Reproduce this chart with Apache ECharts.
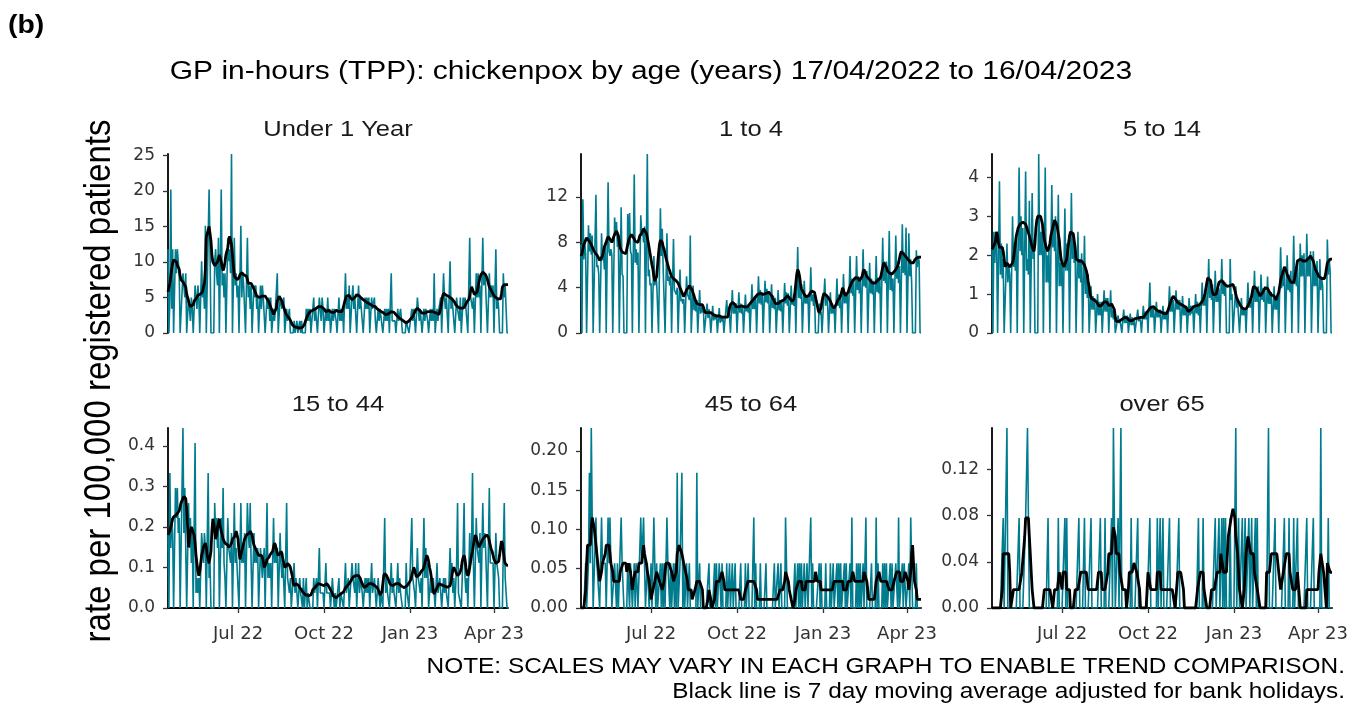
<!DOCTYPE html>
<html><head><meta charset="utf-8">
<script src="https://cdn.jsdelivr.net/npm/echarts@6/dist/echarts.min.js"></script>
<style>html,body{margin:0;padding:0;background:#fff}#c{width:1365px;height:709px}</style>
</head><body><div id="c"></div>
<script>
// ---------- data ----------
const startDate = [2022, 3, 17]; // 17/04/2022, 365 daily points
const tickDates = ['2022-07-01', '2022-10-01', '2023-01-01', '2023-04-01'];
const tickLabels = ['Jul 22', 'Oct 22', 'Jan 23', 'Apr 23'];
const panelTitles = ['Under 1 Year', '1 to 4', '5 to 14', '15 to 44', '45 to 64', 'over 65'];
const yTickValues = [[0,5,10,15,20,25],[0,4,8,12],[0,1,2,3,4],[0,0.1,0.2,0.3,0.4],[0,0.05,0.1,0.15,0.2],[0,0.04,0.08,0.12]];
const yTickLabels = [['0','5','10','15','20','25'],['0','4','8','12'],['0','1','2','3','4'],['0.0','0.1','0.2','0.3','0.4'],['0.00','0.05','0.10','0.15','0.20'],['0.00','0.04','0.08','0.12']];

// daily rate, Under 1 Year
const dailyUnder1 = [11.8,
0,5.0,20.2,3.4,11.8,0,0, 11.8,8.4,11.8,10.1,8.4,0,0, 0,8.4,6.7,5.0,8.4,0,0, 5.0,3.4,1.7,5.0,3.4,0,0,
6.7,5.0,3.4,6.7,5.0,0,0, 10.1,5.0,6.7,3.4,15.1,0,0, 13.4,20.2,11.8,0,0,0,0, 10.1,11.8,8.4,6.7,13.4,0,0,
20.2,6.7,8.4,5.0,8.4,0,0, 13.4,10.1,11.8,8.4,25.2,0,0, 13.4,6.7,8.4,5.0,6.7,0,0, 15.1,5.0,8.4,6.7,6.7,0,0,
13.4,5.0,6.7,3.4,6.7,0,0, 6.7,5.0,6.7,3.4,5.0,0,0, 6.7,3.4,6.7,5.0,5.0,0,0, 5.0,3.4,5.0,1.7,5.0,0,0,
3.4,1.7,3.4,3.4,8.4,0,0, 5.0,5.0,3.4,3.4,5.0,0,0, 3.4,1.7,1.7,3.4,0,0,0, 0,1.7,0,0,1.7,0,0,
1.7,0,1.7,0,0,0,0, 3.4,1.7,3.4,1.7,3.4,0,0, 0,5.0,1.7,3.4,3.4,0,0, 5.0,3.4,1.7,5.0,3.4,0,0,
3.4,1.7,5.0,1.7,3.4,0,0, 3.4,1.7,3.4,3.4,1.7,0,0, 5.0,1.7,3.4,1.7,3.4,0,0, 8.4,3.4,5.0,3.4,6.7,0,0,
5.0,6.7,3.4,5.0,5.0,0,0, 6.7,3.4,5.0,5.0,5.0,0,0, 5.0,3.4,5.0,3.4,5.0,0,0, 5.0,3.4,3.4,5.0,1.7,0,0,
3.4,1.7,3.4,3.4,3.4,0,0, 3.4,1.7,3.4,1.7,3.4,0,0, 8.4,1.7,1.7,1.7,1.7,0,0, 3.4,1.7,1.7,3.4,1.7,0,0,
0,0,1.7,1.7,1.7,0,0, 0,3.4,1.7,3.4,1.7,0,0, 5.0,3.4,1.7,3.4,3.4,0,0, 3.4,1.7,3.4,3.4,1.7,0,0,
3.4,1.7,3.4,1.7,8.4,0,0, 3.4,1.7,3.4,3.4,5.0,0,0, 8.4,5.0,3.4,5.0,5.0,0,0, 10.1,3.4,5.0,3.4,3.4,0,0,
5.0,3.4,3.4,1.7,5.0,0,0, 5.0,3.4,5.0,3.4,3.4,0,0, 13.4,5.0,5.0,3.4,5.0,0,0, 8.4,5.0,8.4,5.0,6.7,0,0,
13.4,6.7,8.4,6.7,6.7,0,0, 8.4,5.0,6.7,5.0,6.7,0,0, 11.8,3.4,5.0,3.4,0,0,0, 0,8.4,5.0,6.7,6.7,0,0];
const avgUnder1 = [5.8,
6.0,7.0,8.0,9.0,9.8,10.3,10.3, 10.3,10.0,9.5,9.5,9.0,8.0,7.5, 7.3,7.2,7.0,7.0,6.5,5.5,5.0, 4.5,4.0,3.7,3.5,3.6,4.0,4.5,
4.6,4.8,5.0,5.3,5.3,5.4,5.5, 5.5,5.8,6.5,7.0,9.0,13.5,14.0, 14.5,15.0,15.0,13.0,11.0,10.0,9.8, 9.5,9.5,9.5,10.0,10.5,11.0,10.5,
10.0,9.3,8.8,9.2,10.0,11.0,11.5, 12.0,13.0,13.6,13.5,12.5,11.0,9.5, 8.0,7.8,7.8,7.5,7.5,7.8,8.2, 8.4,8.5,8.5,8.2,8.0,8.2,8.0,
7.5,7.0,7.2,7.0,7.0,6.8,6.5, 6.2,6.0,5.6,5.2,5.0,5.0,5.0, 5.0,5.0,5.2,5.3,5.3,5.2,5.0, 4.8,4.8,4.4,4.0,3.6,3.5,3.0,
2.6,2.5,2.8,3.5,4.5,4.8,5.2, 5.3,5.2,4.5,4.0,3.6,3.2,2.8, 2.5,2.3,2.2,2.0,1.8,1.5,1.2, 1.0,0.9,0.8,0.8,0.8,0.7,0.7,
0.7,0.7,0.7,0.8,0.8,1.2,1.6, 2.0,2.3,2.6,2.8,3.0,3.0,3.1, 3.2,3.2,3.3,3.4,3.5,3.6,3.7, 3.8,3.8,3.7,3.6,3.5,3.4,3.2,
3.0,3.0,3.1,3.2,3.2,3.0,2.9, 2.8,2.8,2.9,3.0,3.2,3.1,3.0, 3.0,3.0,2.9,3.0,3.3,3.8,4.3, 4.8,5.2,5.4,5.4,5.3,5.0,4.8,
4.7,4.7,4.8,5.0,5.2,5.4,5.4, 5.4,5.2,5.0,4.9,4.8,4.8,4.6, 4.5,4.4,4.3,4.2,4.2,4.1,4.0, 3.9,3.8,3.8,3.7,3.7,3.6,3.4,
3.3,3.2,3.1,3.0,3.0,2.9,2.8, 2.7,2.6,2.6,2.6,2.7,2.8,2.9, 3.0,3.0,3.0,2.9,2.8,2.6,2.4, 2.3,2.2,2.1,2.0,1.9,1.9,1.7,
1.6,1.5,1.4,1.4,1.5,1.7,1.9, 2.0,2.1,2.3,2.6,2.9,3.2,3.4, 3.5,3.4,3.3,3.1,2.9,2.8,2.8, 2.8,2.8,2.9,3.0,3.0,3.0,3.0,
3.0,3.0,3.0,3.0,3.0,2.9,2.8, 2.7,2.6,2.6,3.0,3.6,4.4,5.2, 5.6,5.6,5.5,5.3,5.2,5.1,5.1, 5.0,4.9,4.8,4.7,4.6,4.3,4.0,
3.8,3.7,3.7,3.6,3.5,3.5,3.5, 3.5,3.6,3.8,4.1,4.4,4.6,4.7, 5.2,6.0,6.5,6.3,5.8,5.4,5.6, 5.4,5.8,6.5,7.2,7.8,8.2,8.4,
8.6,8.6,8.4,8.2,7.9,7.5,7.0, 6.5,6.3,6.0,5.8,5.5,5.3,5.1, 5.0,4.9,4.8,4.7,4.7,4.8,5.5, 6.5,6.7,6.8,6.8,6.8,6.8,6.8];

// 1 to 4
const daily1to4 = [7.8,
0,11.8,6.5,8.0,7.0,0,0, 9.5,7.2,8.8,6.9,8.6,0,0, 0,12.2,5.8,6.0,5.2,0,0, 8.8,6.4,7.1,5.6,8.0,0,0,
13.3,7.2,6.8,7.4,6.9,0,0, 10.2,8.6,9.8,7.6,8.4,0,0, 11.1,5.2,5.0,0,0,0,0, 10.5,7.8,10.6,7.2,6.9,0,0,
14.0,6.2,7.4,6.0,7.1,0,0, 10.4,8.6,9.2,8.0,9.4,0,0, 15.8,5.0,5.6,4.2,4.4,0,0, 6.8,4.2,5.0,4.5,4.6,0,0,
11.0,6.8,9.2,5.6,5.6,0,0, 8.8,4.6,5.0,4.2,5.0,0,0, 8.3,3.8,3.6,3.4,4.0,0,0, 5.6,2.8,3.0,2.6,3.0,0,0,
5.0,3.4,3.2,2.9,8.6,0,0, 4.2,2.0,3.0,1.9,2.9,0,0, 3.8,1.7,2.5,1.8,2.2,0,0, 0,2.6,1.3,2.1,1.4,0,0,
2.4,1.1,1.7,1.2,1.6,0,0, 2.2,0.9,1.5,1.0,1.4,0,0, 0,2.9,1.5,2.3,1.5,0,0, 3.8,1.7,2.7,1.7,2.6,0,0,
3.6,1.8,2.6,1.7,2.3,0,0, 3.4,1.9,2.4,1.8,2.5,0,0, 4.3,2.1,3.0,2.1,3.1,0,0, 5.0,2.6,3.8,2.5,3.6,0,0,
4.6,2.7,3.9,2.6,3.7,0,0, 4.3,2.2,3.3,2.1,3.1,0,0, 3.8,2.0,2.9,1.9,2.9,0,0, 4.4,2.6,3.6,2.4,3.5,0,0,
4.2,2.5,3.0,2.4,3.9,0,0, 7.6,3.1,4.5,3.0,4.3,0,0, 4.6,2.6,3.3,2.6,3.4,0,0, 5.8,2.8,3.4,2.4,3.6,0,0,
0,0,2.6,1.6,1.9,0,0, 0,4.8,2.4,3.3,2.7,0,0, 3.6,1.7,2.6,1.7,2.4,0,0, 4.8,2.4,3.4,2.2,3.2,0,0,
5.2,2.6,3.6,2.6,3.5,0,0, 6.8,3.5,4.8,3.3,4.6,0,0, 6.8,3.8,5.0,3.5,4.9,0,0, 7.4,4.1,5.5,4.0,5.5,0,0,
6.2,3.5,4.8,3.4,4.6,0,0, 6.8,3.6,4.9,3.5,4.7,0,0, 8.4,4.6,6.3,4.4,6.3,0,0, 9.0,3.8,5.2,3.7,4.8,0,0,
8.6,4.8,6.3,4.4,5.9,0,0, 9.6,5.3,7.1,5.1,9.3,0,0, 8.8,5.0,6.5,4.4,0,0,0, 0,7.3,5.8,6.8,6.3,0,0];
const avg1to4 = [6.8,
7.0,7.4,7.8,8.0,8.2,8.4,8.4, 8.3,8.1,8.0,7.8,7.6,7.4,7.3, 7.1,7.0,6.9,6.8,6.6,6.4,6.3, 6.4,6.8,7.2,7.6,7.8,8.0,8.3,
8.5,8.5,8.3,8.2,8.0,8.2,8.5, 8.7,8.8,9.0,9.0,8.6,8.0,7.5, 7.3,7.2,7.1,7.0,7.0,7.0,7.4, 7.8,8.2,8.4,8.5,8.7,8.8,8.6,
8.3,8.1,8.0,8.0,8.0,8.3,8.6, 8.6,8.8,9.0,9.2,9.3,9.3,8.8, 8.4,8.0,7.5,7.0,6.5,6.0,5.6, 5.0,4.6,4.6,5.0,6.0,7.0,7.8,
8.2,8.2,8.0,7.6,7.4,7.0,6.6, 6.3,6.0,5.7,5.5,5.2,5.0,4.9, 4.8,4.7,4.7,4.6,4.6,4.4,4.2, 4.0,3.8,3.6,3.4,3.2,3.3,3.6,
3.8,3.9,4.0,4.2,4.3,4.2,3.8, 3.5,3.3,3.0,2.8,2.6,2.6,2.6, 2.5,2.5,2.5,2.5,2.3,2.0,1.8, 1.8,1.8,1.8,1.8,1.8,1.8,1.7,
1.7,1.6,1.6,1.5,1.5,1.5,1.5, 1.5,1.5,1.4,1.4,1.4,1.4,1.4, 1.3,1.3,1.4,1.7,2.2,2.5,2.6, 2.7,2.7,2.6,2.5,2.3,2.2,2.2,
2.3,2.4,2.4,2.4,2.4,2.3,2.3, 2.2,2.2,2.3,2.4,2.5,2.6,2.7, 2.7,2.8,3.0,3.1,3.2,3.3,3.4, 3.5,3.5,3.5,3.5,3.4,3.4,3.4,
3.4,3.5,3.5,3.6,3.6,3.6,3.5, 3.3,3.1,3.0,2.8,2.6,2.5,2.5, 2.6,2.7,2.7,2.8,2.8,2.8,2.9, 3.0,3.1,3.2,3.3,3.3,3.2,3.0,
2.9,2.8,2.8,3.0,3.6,4.4,5.2, 5.6,5.4,5.0,4.4,3.9,3.8,3.6, 3.4,3.3,3.2,3.2,3.2,3.3,3.5, 3.6,3.7,3.8,3.8,3.6,3.2,2.8,
2.4,2.0,1.8,1.9,2.2,2.8,3.2, 3.5,3.5,3.4,3.3,3.2,3.1,3.0, 2.8,2.6,2.4,2.3,2.2,2.3,2.5, 2.7,2.9,3.0,3.1,3.3,3.6,4.0,
3.8,3.5,3.3,3.3,3.4,3.6,3.9, 4.1,4.3,4.5,4.6,4.7,4.8,4.9, 5.0,5.0,4.8,4.6,4.5,4.6,5.0, 5.4,5.6,5.5,5.2,5.0,4.9,4.8,
4.8,4.6,4.5,4.4,4.3,4.3,4.4, 4.5,4.6,4.7,4.7,4.8,5.0,5.4, 5.8,6.2,6.3,6.2,5.8,5.5,5.4, 5.3,5.2,5.2,5.2,5.3,5.4,5.5,
5.6,5.7,5.9,6.2,6.6,7.0,7.2, 7.2,7.0,6.9,6.8,6.7,6.6,6.5, 6.4,6.3,6.2,6.2,6.2,6.2,6.4, 6.5,6.6,6.6,6.6,6.7,6.7,6.7];

// 5 to 14
const daily5to14 = [2.2,
0,2.6,1.8,2.6,2.2,0,0, 3.9,1.5,2.3,1.4,1.9,0,0, 0,2.3,1.3,1.7,1.5,0,0, 3.0,1.7,2.3,1.6,2.4,0,0,
4.25,2.1,3.0,2.0,2.7,0,0, 4.15,1.6,1.9,1.5,3.4,0,0, 3.6,1.9,2.4,0,0,0,0, 4.6,2.0,2.6,2.0,2.8,0,0,
4.25,1.3,2.0,1.3,2.1,0,0, 3.8,2.2,2.9,2.1,3.0,0,0, 3.55,1.2,1.8,1.2,1.8,0,0, 3.2,1.6,2.3,1.6,2.3,0,0,
3.6,1.9,2.55,1.8,2.15,0,0, 2.6,1.4,1.9,1.3,2.05,0,0, 2.5,1.0,1.6,0.9,1.5,0,0, 1.2,0.6,0.95,0.6,0.9,0,0,
1.0,0.45,0.8,0.45,0.8,0,0, 1.1,0.55,0.9,0.55,0.9,0,0, 1.1,0.4,0.6,0.35,0.55,0,0, 0,0.45,0.25,0.35,0.3,0,0,
0.6,0.25,0.45,0.25,0.45,0,0, 0.5,0.2,0.4,0.2,0.35,0,0, 0,0.6,0.3,0.4,0.3,0,0, 0.7,0.35,0.55,0.35,0.55,0,0,
1.3,0.4,0.65,0.4,0.65,0,0, 0.8,0.4,0.55,0.4,0.6,0,0, 0.7,0.35,0.55,0.35,0.55,0,0, 1.2,0.55,0.85,0.55,0.85,0,0,
1.1,0.6,0.85,0.6,0.85,0,0, 0.95,0.45,0.7,0.45,0.7,0,0, 0.9,0.45,0.7,0.5,0.7,0,0, 1.0,0.5,0.8,0.45,0.75,0,0,
1.3,0.7,1.0,0.7,1.05,0,0, 1.9,0.9,1.35,0.85,1.25,0,0, 1.6,0.8,1.15,0.8,1.15,0,0, 1.9,1.0,1.35,0.95,1.3,0,0,
0,0,1.9,0.85,1.0,0,0, 0,1.2,0.65,0.8,0.75,0,0, 0.9,0.45,0.65,0.45,0.6,0,0, 1.3,0.65,0.9,0.65,1.0,0,0,
1.6,0.8,1.1,0.8,1.2,0,0, 1.5,0.85,1.15,0.8,1.2,0,0, 1.45,0.75,1.0,0.75,1.05,0,0, 1.2,0.6,0.9,0.6,0.95,0,0,
2.2,1.15,1.55,1.2,1.65,0,0, 2.0,1.1,1.5,1.05,1.6,0,0, 2.5,1.25,1.7,1.2,1.85,0,0, 2.3,1.45,2.0,1.45,2.05,0,0,
2.55,1.45,1.95,1.45,2.1,0,0, 2.1,1.2,1.65,1.2,1.85,0,0, 1.9,1.1,1.4,1.2,0,0,0, 0,2.4,1.5,1.9,1.6,0,0];
const avg5to14 = [2.15,
2.2,2.2,2.3,2.4,2.6,2.5,2.3, 2.2,2.2,2.2,2.2,2.1,1.9,1.7, 1.7,1.8,1.8,1.8,1.7,1.65,1.65, 1.8,1.9,2.1,2.3,2.5,2.6,2.7,
2.75,2.8,2.8,2.85,2.85,2.85,2.85, 2.8,2.75,2.65,2.6,2.5,2.4,2.3, 2.2,2.15,2.1,2.3,2.7,2.9,3.0, 3.0,3.0,3.0,3.0,2.8,2.6,2.4,
2.3,2.2,2.15,2.1,2.2,2.3,2.5, 2.6,2.7,2.8,2.9,2.9,2.8,2.7, 2.55,2.4,2.1,1.9,1.8,1.75,1.7, 1.7,1.75,1.9,2.1,2.3,2.5,2.6,
2.6,2.6,2.55,2.5,2.2,1.9,1.9, 1.85,1.85,1.85,1.85,1.85,1.8,1.8, 1.75,1.7,1.6,1.5,1.3,1.2,1.0, 0.9,0.9,0.9,0.85,0.85,0.8,0.8,
0.75,0.7,0.65,0.65,0.7,0.75,0.75, 0.8,0.8,0.8,0.8,0.75,0.7,0.7, 0.75,0.75,0.75,0.75,0.6,0.4,0.3, 0.3,0.3,0.3,0.32,0.35,0.35,0.37,
0.38,0.4,0.4,0.4,0.38,0.35,0.32, 0.3,0.3,0.32,0.34,0.36,0.37,0.38, 0.38,0.38,0.38,0.39,0.4,0.4,0.4, 0.4,0.42,0.45,0.5,0.55,0.55,0.6,
0.63,0.66,0.7,0.7,0.68,0.65,0.62, 0.6,0.58,0.56,0.55,0.55,0.54,0.53, 0.52,0.5,0.48,0.47,0.5,0.55,0.62, 0.7,0.78,0.85,0.9,0.95,0.95,0.9,
0.85,0.8,0.78,0.76,0.75,0.74,0.72, 0.72,0.7,0.7,0.68,0.65,0.6,0.55, 0.56,0.58,0.6,0.62,0.65,0.68,0.7, 0.7,0.7,0.7,0.7,0.72,0.75,0.78,
0.82,0.85,0.9,1.0,1.15,1.3,1.42, 1.45,1.45,1.35,1.2,1.05,0.98,0.95, 0.95,1.0,1.1,1.2,1.3,1.35,1.35, 1.35,1.32,1.3,1.25,1.2,1.2,1.2,
1.2,1.2,1.22,1.25,1.25,1.25,1.2, 1.1,1.0,0.9,0.85,0.8,0.75,0.7, 0.68,0.65,0.62,0.6,0.6,0.62,0.65, 0.7,0.75,0.8,0.85,0.95,1.1,1.2,
1.25,1.2,1.15,1.1,1.05,1.0,0.95, 0.95,1.0,1.05,1.1,1.15,1.18,1.2, 1.15,1.1,1.05,1.0,0.98,0.96,0.95, 0.95,0.9,0.85,0.8,0.9,1.05,1.2,
1.35,1.45,1.5,1.6,1.7,1.68,1.6, 1.5,1.45,1.4,1.35,1.3,1.3,1.35, 1.3,1.4,1.55,1.7,1.85,1.9,1.9, 1.9,1.88,1.86,1.85,1.85,1.85,1.85,
1.85,1.88,1.92,1.95,1.98,2.0,1.95, 1.85,1.75,1.65,1.6,1.55,1.5,1.45, 1.4,1.4,1.4,1.4,1.4,1.4,1.5, 1.65,1.8,1.85,1.85,1.9,1.9,1.9];

// 15 to 44
const daily15to44 = [0.185,
0,0.333,0.148,0.222,0.185,0,0, 0.296,0.222,0.296,0.185,0.222,0,0, 0,0.444,0.185,0.296,0.148,0,0, 0.259,0.148,0.222,0.111,0.185,0,0,
0.407,0.037,0.074,0.037,0.074,0,0, 0.185,0.148,0.111,0.185,0.148,0,0, 0.333,0.074,0.111,0,0,0,0, 0.259,0.185,0.222,0.148,0.222,0,0,
0.222,0.148,0.296,0.111,0.074,0,0, 0.222,0.148,0.148,0.111,0.185,0,0, 0.259,0.111,0.148,0.148,0.148,0,0, 0.259,0.111,0.148,0.111,0.185,0,0,
0.259,0.185,0.148,0.259,0.111,0,0, 0.185,0.111,0.148,0.111,0.148,0,0, 0.148,0.111,0.074,0.111,0.148,0,0, 0.259,0.074,0.111,0.074,0.111,0,0,
0.222,0.111,0.148,0.111,0.148,0,0, 0.185,0.111,0.074,0.111,0.111,0,0, 0.259,0.074,0.074,0.037,0.074,0,0, 0,0.111,0.037,0.074,0.037,0,0,
0.074,0.037,0.037,0,0.074,0,0, 0.074,0,0.037,0.037,0,0,0, 0,0.074,0.037,0.037,0.074,0,0, 0.148,0.037,0.037,0.037,0.037,0,0,
0.111,0.037,0.037,0.037,0.037,0,0, 0.074,0.037,0,0.037,0,0,0, 0.074,0,0.037,0.037,0.037,0,0, 0.111,0.037,0.037,0.074,0,0,0,
0.111,0.074,0.074,0.037,0.111,0,0, 0.111,0.037,0.074,0.074,0.037,0,0, 0.074,0.037,0.074,0.037,0.074,0,0, 0.111,0.037,0.037,0.074,0.037,0,0,
0.074,0.037,0,0.037,0.037,0,0, 0.222,0.037,0.074,0.037,0.037,0,0, 0.111,0.037,0.074,0.037,0.037,0,0, 0.111,0.037,0.074,0.037,0.037,0,0,
0,0,0.111,0.037,0.037,0,0, 0,0.222,0.074,0.074,0.037,0,0, 0.148,0.074,0.074,0.037,0.074,0,0, 0.222,0.074,0.148,0.074,0.111,0,0,
0.074,0.037,0.037,0.074,0.037,0,0, 0.111,0.037,0.037,0.074,0.037,0,0, 0.074,0.037,0.074,0.037,0.037,0,0, 0.148,0.074,0.111,0.037,0.074,0,0,
0.111,0.259,0.037,0.037,0.037,0,0, 0.148,0.259,0.074,0.037,0.074,0,0, 0.185,0.111,0.148,0.333,0.111,0,0, 0.222,0.148,0.148,0.111,0.185,0,0,
0.259,0.148,0.185,0.148,0.148,0,0, 0.296,0.111,0.111,0.111,0.111,0,0, 0.185,0.111,0.111,0.074,0,0,0, 0,0.148,0.259,0.074,0.074,0,0];
const avg15to44 = [0.18,
0.18,0.19,0.2,0.21,0.22,0.225,0.225, 0.228,0.23,0.23,0.232,0.24,0.25,0.26, 0.265,0.27,0.275,0.275,0.27,0.245,0.2, 0.15,0.17,0.19,0.2,0.2,0.2,0.18,
0.16,0.13,0.11,0.09,0.08,0.09,0.11, 0.13,0.14,0.15,0.155,0.16,0.15,0.13, 0.12,0.11,0.11,0.14,0.19,0.22,0.21, 0.19,0.17,0.18,0.2,0.21,0.22,0.2,
0.19,0.18,0.17,0.165,0.16,0.16,0.16, 0.155,0.15,0.15,0.155,0.16,0.17,0.17, 0.175,0.18,0.19,0.19,0.17,0.14,0.12, 0.13,0.14,0.15,0.16,0.17,0.175,0.18,
0.18,0.18,0.185,0.19,0.19,0.18,0.165, 0.155,0.15,0.145,0.14,0.135,0.13,0.13, 0.13,0.13,0.125,0.115,0.1,0.1,0.11, 0.12,0.12,0.125,0.13,0.13,0.13,0.14,
0.15,0.16,0.155,0.145,0.135,0.13,0.13, 0.135,0.14,0.135,0.12,0.11,0.1,0.1, 0.105,0.11,0.11,0.105,0.1,0.1,0.08, 0.06,0.055,0.055,0.06,0.06,0.058,0.055,
0.05,0.048,0.045,0.04,0.04,0.036,0.033, 0.03,0.03,0.03,0.03,0.03,0.032,0.038, 0.045,0.048,0.05,0.052,0.055,0.058,0.06, 0.06,0.06,0.058,0.056,0.055,0.055,0.056,
0.058,0.06,0.058,0.054,0.05,0.045,0.04, 0.035,0.03,0.028,0.026,0.025,0.026,0.03, 0.032,0.034,0.035,0.036,0.038,0.04,0.045, 0.05,0.053,0.055,0.057,0.06,0.063,0.068,
0.072,0.076,0.079,0.08,0.08,0.08,0.08, 0.08,0.078,0.072,0.065,0.06,0.055,0.05, 0.05,0.052,0.055,0.057,0.06,0.06,0.06, 0.06,0.058,0.057,0.056,0.055,0.055,0.05,
0.045,0.04,0.032,0.03,0.04,0.06,0.08, 0.085,0.085,0.08,0.075,0.07,0.063,0.058, 0.055,0.054,0.055,0.056,0.058,0.06,0.06, 0.06,0.06,0.058,0.056,0.054,0.052,0.05,
0.05,0.05,0.052,0.055,0.058,0.062,0.065, 0.07,0.08,0.09,0.1,0.095,0.085,0.077, 0.075,0.078,0.082,0.086,0.09,0.09,0.095, 0.1,0.11,0.12,0.13,0.125,0.115,0.1,
0.09,0.075,0.06,0.04,0.035,0.04,0.045, 0.05,0.055,0.06,0.06,0.058,0.057,0.056, 0.055,0.054,0.053,0.052,0.051,0.05,0.05, 0.055,0.065,0.08,0.095,0.1,0.095,0.09,
0.085,0.08,0.08,0.085,0.09,0.1,0.115, 0.125,0.13,0.12,0.1,0.085,0.08,0.085, 0.1,0.115,0.13,0.14,0.155,0.17,0.18, 0.175,0.165,0.155,0.15,0.155,0.16,0.165,
0.17,0.172,0.175,0.178,0.18,0.18,0.175, 0.165,0.155,0.145,0.14,0.13,0.12,0.115, 0.11,0.11,0.11,0.115,0.13,0.15,0.165, 0.16,0.14,0.12,0.11,0.11,0.105,0.105];

// 45 to 64
const daily45to64 = [0,
0,0,0,0,0.057,0,0, 0.057,0.172,0.057,0.229,0.115,0,0, 0,0.115,0.057,0.057,0.057,0,0, 0.115,0.057,0.057,0.057,0.057,0,0,
0.115,0.057,0.115,0.057,0,0,0, 0.057,0.057,0,0.057,0,0,0, 0.115,0.057,0.057,0,0,0,0, 0.057,0.057,0,0.057,0.057,0,0,
0.057,0,0.057,0.057,0,0,0, 0.115,0.057,0.057,0.115,0.057,0,0, 0.057,0.057,0,0,0.057,0,0, 0.115,0.057,0,0.057,0,0,0,
0.057,0,0.057,0,0.057,0,0, 0.115,0.057,0.057,0,0.057,0,0, 0.057,0,0.057,0,0.172,0,0, 0.057,0.057,0.172,0,0.057,0,0,
0.057,0,0,0.057,0,0,0, 0,0,0,0,0.172,0,0, 0.057,0,0,0,0,0,0, 0,0,0,0.057,0,0,0,
0,0,0.057,0,0.057,0,0, 0.057,0.057,0,0.057,0,0,0, 0,0.057,0,0,0.057,0,0, 0.057,0,0,0.057,0,0,0,
0,0,0.057,0,0,0,0, 0.057,0,0,0.057,0,0,0, 0,0,0.115,0,0.057,0,0, 0,0,0.057,0,0,0,0,
0,0.057,0,0,0,0,0, 0,0,0,0.057,0,0,0, 0.057,0,0,0.057,0,0,0, 0,0.115,0.057,0,0,0,0,
0,0,0,0,0.057,0,0, 0.057,0,0.057,0,0.057,0,0, 0.057,0,0,0.057,0,0,0, 0.115,0,0.057,0,0,0,0,
0,0,0.057,0,0.057,0,0, 0,0,0.057,0,0,0,0, 0.057,0,0,0.057,0,0,0, 0.057,0,0.057,0,0.057,0,0,
0,0.057,0,0.057,0,0,0, 0.057,0,0.115,0,0,0,0, 0.057,0,0.057,0,0.057,0,0, 0.057,0,0,0.115,0,0,0,
0,0,0.057,0,0,0,0, 0.115,0,0.057,0,0,0,0, 0.057,0,0.057,0,0.057,0,0, 0,0.057,0,0.057,0,0,0,
0.057,0.057,0,0.115,0,0,0, 0.057,0,0.057,0.057,0,0,0, 0.057,0,0.115,0.057,0,0,0, 0,0.057,0,0,0,0,0];
const avg45to64 = [0,
0,0,0,0,0.023,0.057,0.08, 0.08,0.08,0.08,0.103,0.115,0.115,0.103, 0.092,0.08,0.08,0.057,0.046,0.034,0.034, 0.046,0.057,0.057,0.057,0.069,0.08,0.08,
0.08,0.08,0.069,0.057,0.057,0.046,0.034, 0.034,0.034,0.034,0.034,0.034,0.034,0.046, 0.046,0.046,0.057,0.057,0.057,0.057,0.046, 0.046,0.057,0.057,0.046,0.034,0.023,0.034,
0.034,0.046,0.046,0.046,0.046,0.057,0.057, 0.057,0.057,0.069,0.08,0.069,0.069,0.057, 0.046,0.046,0.034,0.023,0.011,0.011,0.023, 0.023,0.034,0.034,0.046,0.046,0.046,0.034,
0.034,0.034,0.023,0.023,0.034,0.046,0.057, 0.057,0.057,0.057,0.057,0.057,0.046,0.046, 0.034,0.034,0.034,0.046,0.069,0.069,0.08, 0.08,0.08,0.069,0.069,0.057,0.057,0.046,
0.046,0.034,0.023,0.023,0.023,0.023,0.011, 0.011,0.011,0.023,0.023,0.034,0.034,0.034, 0.034,0.034,0.034,0.023,0,0,0, 0,0,0.011,0.023,0.023,0.011,0,
0,0,0.011,0.023,0.034,0.034,0.034, 0.034,0.034,0.034,0.046,0.046,0.034,0.023, 0.023,0.023,0.023,0.023,0.023,0.023,0.023, 0.023,0.023,0.023,0.023,0.023,0.023,0.023,
0.023,0.023,0.011,0.011,0.011,0.011,0.011, 0.023,0.023,0.023,0.034,0.034,0.034,0.034, 0.034,0.034,0.034,0.034,0.034,0.023,0.011, 0.011,0.011,0.011,0.011,0.011,0.011,0.011,
0.011,0.011,0.011,0.011,0.011,0.011,0.011, 0.011,0.011,0.011,0.011,0.011,0.011,0.011, 0.011,0.011,0.023,0.023,0.023,0.023,0.023, 0.034,0.046,0.046,0.046,0.034,0.023,0.023,
0.011,0.011,0,0,0.011,0.023,0.023, 0.023,0.034,0.034,0.034,0.034,0.023,0.023, 0.023,0.023,0.034,0.034,0.034,0.034,0.034, 0.034,0.034,0.034,0.034,0.034,0.046,0.046,
0.034,0.034,0.034,0.034,0.023,0.023,0.023, 0.023,0.023,0.023,0.023,0.023,0.023,0.023, 0.023,0.023,0.023,0.023,0.034,0.034,0.034, 0.034,0.034,0.034,0.034,0.034,0.034,0.034,
0.023,0.023,0.023,0.023,0.023,0.034,0.034, 0.034,0.034,0.034,0.046,0.046,0.034,0.034, 0.034,0.034,0.034,0.034,0.034,0.034,0.034, 0.034,0.046,0.046,0.046,0.034,0.023,0.011,
0.011,0.011,0.011,0.011,0.011,0.011,0.023, 0.034,0.034,0.034,0.046,0.046,0.034,0.034, 0.034,0.034,0.034,0.034,0.034,0.034,0.034, 0.023,0.023,0.023,0.023,0.023,0.034,0.034,
0.034,0.046,0.046,0.046,0.046,0.034,0.034, 0.034,0.034,0.034,0.046,0.046,0.046,0.034, 0.023,0.023,0.046,0.069,0.08,0.057,0.034, 0.034,0.023,0.011,0.011,0.011,0.011,0.011];

// over 65
const dailyOver65 = [0,
0,0,0,0,0,0,0, 0,0,0,0,0.078,0,0, 0,0.156,0,0,0,0,0, 0,0,0,0,0,0,0,
0.078,0,0,0,0,0,0, 0.078,0.078,0.156,0.078,0,0,0, 0,0,0,0,0,0,0, 0,0,0,0,0,0,0,
0,0,0,0.078,0,0,0, 0,0,0,0,0,0,0, 0.078,0,0,0,0,0,0, 0.078,0,0.078,0,0,0,0,
0,0,0,0,0,0,0, 0,0.078,0,0,0,0,0, 0.078,0,0,0,0,0,0, 0.078,0,0,0,0,0,0,
0,0,0,0.078,0,0,0, 0,0.078,0,0,0,0,0, 0,0.078,0,0.156,0.078,0,0, 0,0.078,0,0.078,0.156,0,0,
0,0,0,0,0,0,0, 0,0.078,0,0,0,0,0, 0,0.078,0,0,0,0,0, 0,0,0,0,0,0,0,
0.078,0,0,0,0,0,0, 0,0.078,0,0,0.078,0,0, 0.078,0,0,0,0,0,0, 0.078,0,0,0,0,0,0,
0,0,0,0.078,0,0,0, 0,0,0,0,0,0,0, 0,0,0,0,0,0,0, 0,0,0,0.078,0,0,0,
0,0.078,0,0,0,0,0, 0,0,0,0,0,0,0, 0.078,0,0,0,0.078,0,0, 0.078,0,0.078,0,0.078,0,0,
0,0,0.078,0,0,0,0, 0,0.156,0,0,0.078,0,0, 0,0.078,0,0,0.078,0,0, 0,0.078,0,0,0.078,0,0,
0,0.078,0,0.078,0,0,0, 0,0,0,0,0,0,0, 0,0.156,0,0,0,0,0, 0,0.078,0,0,0,0,0,
0,0,0,0,0.078,0,0, 0,0,0.078,0,0,0,0, 0.078,0,0,0,0.078,0,0, 0,0,0,0,0,0,0,
0.078,0,0,0,0,0,0, 0.078,0,0,0,0,0,0, 0,0.156,0,0,0,0,0, 0,0,0.078,0,0,0,0];
const avgOver65 = [0,
0,0,0,0,0,0,0, 0,0,0,0.016,0.047,0.047,0.047, 0.047,0.047,0.047,0.047,0.031,0,0, 0,0.016,0.016,0.016,0.016,0.016,0.016,
0.016,0.016,0.016,0.031,0.031,0.031,0.062, 0.078,0.078,0.078,0.078,0.062,0.047,0.031, 0.016,0.016,0,0,0,0,0, 0,0,0,0,0,0,0.016,
0.016,0.016,0.016,0.016,0.016,0.016,0.016, 0.016,0,0,0.016,0.016,0.016,0.016, 0.016,0.031,0.031,0.031,0.016,0.031,0.031, 0.031,0.031,0.016,0.016,0.016,0.016,0,
0,0,0,0,0.016,0.016,0.016, 0.016,0.016,0.016,0.031,0.031,0.031,0.031, 0.031,0.031,0.031,0.031,0.016,0.016,0.016, 0.016,0.016,0.016,0.016,0.016,0.016,0.016,
0.016,0.031,0.031,0.031,0.031,0.016,0.016, 0.016,0.016,0.016,0.016,0.031,0.047,0.047, 0.047,0.047,0.062,0.070,0.070,0.062,0.047, 0.047,0.047,0.047,0.031,0.031,0.031,0.016,
0.016,0.016,0.016,0,0,0.016,0.031, 0.031,0.031,0.031,0.031,0.039,0.039,0.039, 0.031,0.031,0.031,0.016,0,0,0, 0,0,0,0,0,0.031,0.031,
0.031,0.016,0.016,0.016,0.016,0.016,0.016, 0.016,0.031,0.031,0.031,0.031,0.016,0.016, 0.016,0.016,0.016,0.016,0.016,0.016,0.016, 0.016,0.016,0.016,0.016,0.016,0.016,0,
0,0,0.031,0.031,0.031,0.031,0.031, 0.031,0.016,0,0,0,0,0, 0,0,0,0,0,0,0, 0,0,0.016,0.016,0.016,0.031,0.031,
0.031,0.031,0.016,0.016,0.016,0,0, 0,0,0,0.016,0.016,0.016,0.016, 0.016,0.016,0.031,0.031,0.031,0.031,0.047, 0.047,0.047,0.031,0.031,0.031,0.031,0.047,
0.062,0.062,0.062,0.078,0.078,0.086,0.086, 0.078,0.062,0.062,0.047,0.031,0.016,0.016, 0.016,0,0,0.016,0.031,0.047,0.047, 0.062,0.062,0.062,0.047,0.047,0.047,0.047,
0.031,0.031,0.031,0.016,0.016,0.016,0, 0,0,0,0,0,0,0.031, 0.031,0.031,0.031,0.031,0.047,0.047,0.047, 0.047,0.047,0.047,0.047,0.047,0.031,0.031,
0.016,0.016,0.016,0.031,0.031,0.031,0.047, 0.047,0.047,0.047,0.031,0.031,0.031,0.016, 0.016,0.016,0.016,0.016,0.031,0.031,0.031, 0,0,0,0,0,0,0,
0.016,0.016,0.016,0.016,0.016,0.016,0.016, 0.016,0.016,0.016,0.016,0.016,0.016,0.031, 0.031,0.047,0.047,0.047,0.031,0.031,0.031, 0,0.039,0.039,0.039,0.031,0.031,0.031];

const dailySeries = [dailyUnder1, daily1to4, daily5to14, daily15to44, daily45to64, dailyOver65];
const avgSeries = [avgUnder1, avg1to4, avg5to14, avg15to44, avg45to64, avgOver65];

// ---------- chart ----------
const AXFONT = 'DejaVu Sans';
const TXFONT = 'Liberation Sans';
const SX = 1.135; // horizontal stretch of the reference lettering
const dates = [];
for (let i = 0; i < dailyUnder1.length; i++) {
  const d = new Date(Date.UTC(startDate[0], startDate[1], startDate[2] + i));
  dates.push(d.toISOString().slice(0, 10));
}
const lefts = [168, 581, 992];
const tops = [154, 428];
const heights = [179, 180];
const W = 340;
const TEAL = '#007C8E';

const grids = [], xAxes = [], yAxes = [], series = [];
for (let i = 0; i < 6; i++) {
  const row = Math.floor(i / 3), col = i % 3;
  const bottomRow = row === 1;
  grids.push({left: lefts[col], top: tops[row], width: W, height: heights[row], outerBoundsMode: 'none', containLabel: false});
  const isTick = (idx, val) => tickDates.indexOf(val) >= 0;
  xAxes.push({
    type: 'category', gridIndex: i, data: dates, boundaryGap: false,
    axisLine: {show: bottomRow, onZero: false, lineStyle: {color: '#000', width: 1.8}},
    axisTick: {show: bottomRow, interval: isTick, length: 5, lineStyle: {color: '#333', width: 1.3}},
    axisLabel: {show: bottomRow, interval: isTick, margin: 17, color: '#333', fontSize: 18, fontFamily: AXFONT,
      formatter: v => tickLabels[tickDates.indexOf(v)] || ''},
    splitLine: {show: false}
  });
  const tv = yTickValues[i], tl = yTickLabels[i];
  yAxes.push({
    type: 'value', gridIndex: i, min: 0, max: 'dataMax',
    axisLine: {show: true, lineStyle: {color: '#000', width: 1.8}},
    axisTick: {show: true, length: 5, customValues: tv, lineStyle: {color: '#333', width: 1.3}},
    axisLabel: {show: true, customValues: tv, margin: 13, color: '#333', fontSize: 17, fontFamily: AXFONT,
      formatter: v => { let best = 0; for (let k = 0; k < tv.length; k++) if (Math.abs(tv[k] - v) < Math.abs(tv[best] - v)) best = k; return tl[best]; }},
    splitLine: {show: false}
  });
  series.push({type: 'line', xAxisIndex: i, yAxisIndex: i, data: dailySeries[i], showSymbol: false, symbol: 'none',
    lineStyle: {color: TEAL, width: 1.6}, z: 2, silent: true});
  series.push({type: 'line', xAxisIndex: i, yAxisIndex: i, data: avgSeries[i], showSymbol: false, symbol: 'none',
    lineStyle: {color: '#000', width: 2.8}, z: 3, silent: true});
}

const stripY = [130, 405];
const graphics = [
  {type: 'text', x: 8, y: 26, scaleX: SX, style: {text: '(b)', font: 'bold 25px ' + TXFONT, fill: '#000', align: 'left', verticalAlign: 'middle'}},
  {type: 'text', x: 651, y: 72, scaleX: SX, style: {text: 'GP in-hours (TPP): chickenpox by age (years) 17/04/2022 to 16/04/2023', font: '26.4px ' + TXFONT, fill: '#000', align: 'center', verticalAlign: 'middle'}},
  {type: 'text', x: 100, y: 381, rotation: Math.PI / 2, scaleY: SX, style: {text: 'rate per 100,000 registered patients', font: '33px ' + TXFONT, fill: '#000', align: 'center', verticalAlign: 'middle'}},
  {type: 'text', x: 1345, y: 667, scaleX: SX, style: {text: 'NOTE: SCALES MAY VARY IN EACH GRAPH TO ENABLE TREND COMPARISON.', font: '21.5px ' + TXFONT, fill: '#000', align: 'right', verticalAlign: 'middle'}},
  {type: 'text', x: 1345, y: 692, scaleX: SX, style: {text: 'Black line is 7 day moving average adjusted for bank holidays.', font: '21.5px ' + TXFONT, fill: '#000', align: 'right', verticalAlign: 'middle'}}
];
for (let i = 0; i < 6; i++) {
  graphics.push({type: 'text', x: lefts[i % 3] + W / 2, y: stripY[Math.floor(i / 3)], scaleX: SX,
    style: {text: panelTitles[i], font: '22.5px ' + TXFONT, fill: '#1a1a1a', align: 'center', verticalAlign: 'middle'}});
}

const chart = echarts.init(document.getElementById('c'), null, {renderer: 'canvas'});
chart.setOption({
  animation: false,
  backgroundColor: '#fff',
  grid: grids, xAxis: xAxes, yAxis: yAxes, series: series,
  graphic: graphics
});
</script>
</body></html>
